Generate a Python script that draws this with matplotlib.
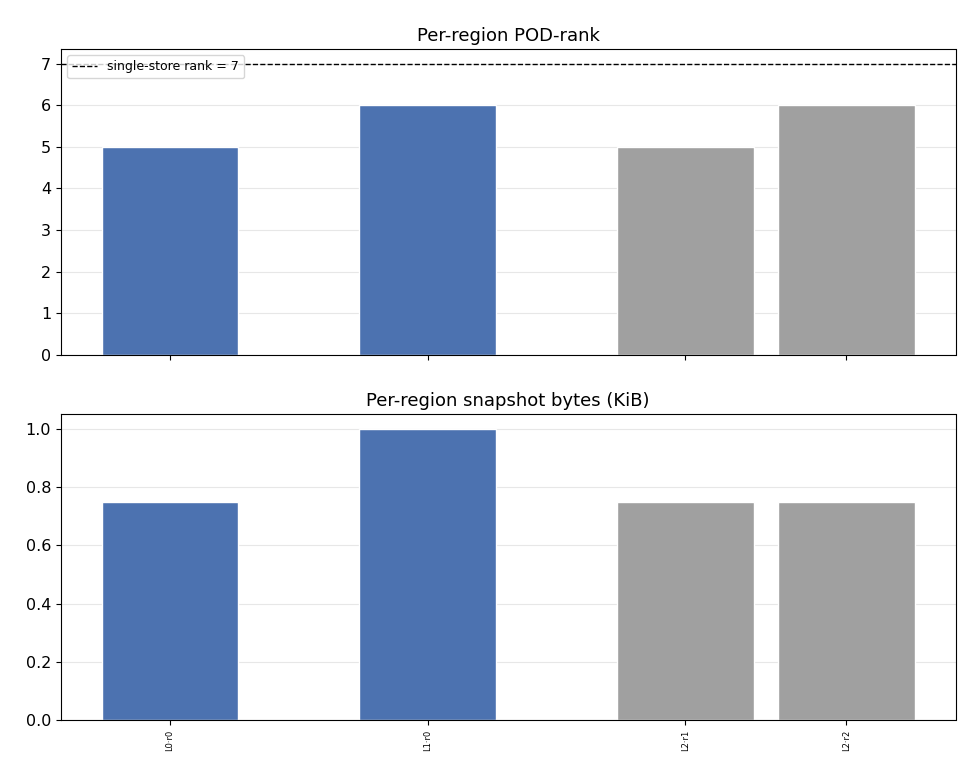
import matplotlib
matplotlib.use("Agg")
import matplotlib.pyplot as plt

labels = ["L0·r0", "L1·r0", "L2·r1", "L2·r2"]
xpos = [0, 1.6, 3.2, 4.2]
ranks = [5, 6, 5, 6]
kib = [0.75, 1.0, 0.75, 0.75]
colors = ["#4c72b0", "#4c72b0", "#a0a0a0", "#a0a0a0"]
single_rank = 7

fig, (ax1, ax2) = plt.subplots(2, 1, figsize=(9.75, 7.8), dpi=100, sharex=True)

ax1.bar(xpos, ranks, width=0.85, color=colors, edgecolor="white")
ax1.axhline(single_rank, color="black", linestyle="--", linewidth=1,
            label=f"single-store rank = {single_rank}")
ax1.set_title("Per-region POD-rank", fontsize=13)
ax1.legend(loc="upper left", fontsize=9)
ax1.grid(axis="y", alpha=0.3)
ax1.set_axisbelow(True)
ax1.tick_params(labelsize=11.5)

ax2.bar(xpos, kib, width=0.85, color=colors, edgecolor="white")
ax2.set_title("Per-region snapshot bytes (KiB)", fontsize=13)
ax2.grid(axis="y", alpha=0.3)
ax2.set_axisbelow(True)
ax2.set_xticks(xpos)
ax2.set_xticklabels(labels, rotation=90, fontsize=6)
ax2.tick_params(axis="y", labelsize=11.5)

fig.subplots_adjust(left=0.0625, right=0.98, top=0.937, bottom=0.077, hspace=0.195)
fig.savefig("out.png")
